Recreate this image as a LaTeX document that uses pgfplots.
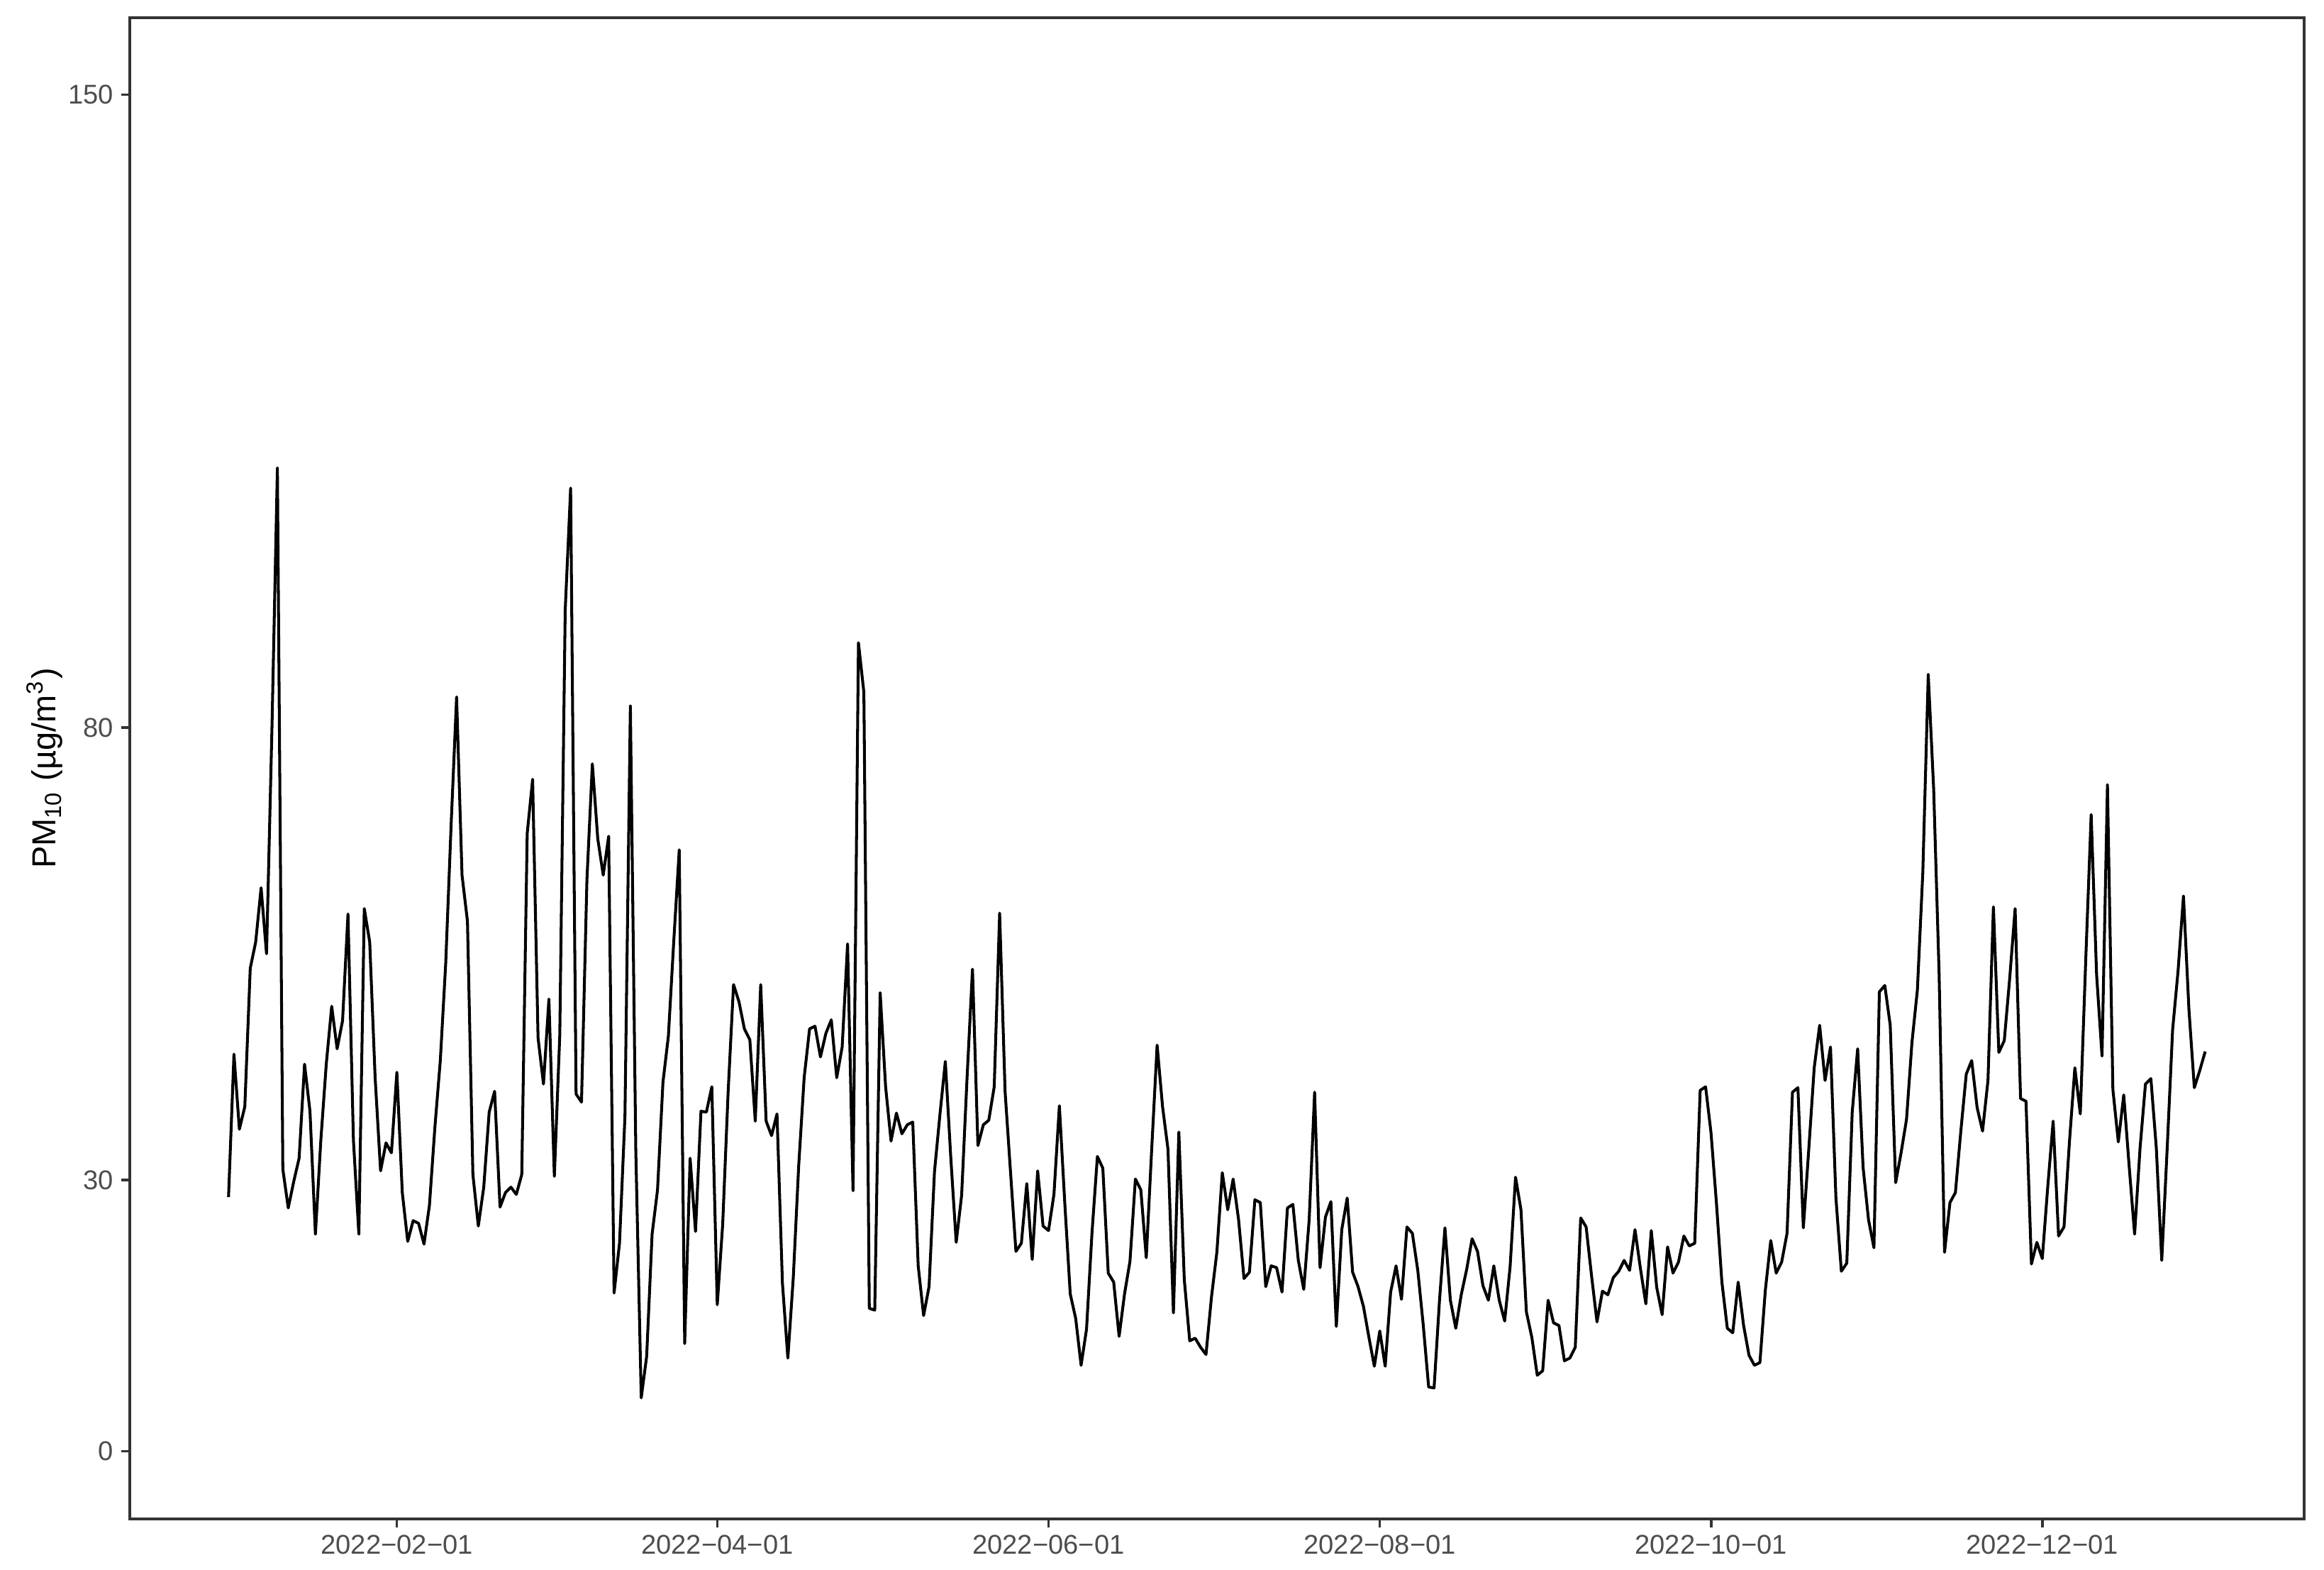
\documentclass[border=0pt]{standalone}
\usepackage{fontspec}
\setmainfont{Liberation Sans}
\usepackage{pgfplots}
\pgfplotsset{compat=1.18}
\definecolor{gray20}{RGB}{51,51,51}
\definecolor{gray30}{RGB}{77,77,77}

% daily PM10, day 0 = 2022-01-01
\pgfplotstableread[row sep=\\]{
d v\\
0 28.1\\ 1 43.9\\ 2 35.6\\ 3 38.1\\ 4 53.4\\ 5 56.3\\ 6 62.3\\ 7 55.0\\ 8 80.0\\ 9 108.7\\
10 31.2\\ 11 26.9\\ 12 29.8\\ 13 32.4\\ 14 42.8\\ 15 37.6\\ 16 24.0\\ 17 34.4\\ 18 42.8\\ 19 49.2\\
20 44.5\\ 21 47.6\\ 22 59.4\\ 23 34.4\\ 24 24.0\\ 25 60.0\\ 26 56.3\\ 27 41.3\\ 28 31.0\\ 29 34.1\\
30 33.0\\ 31 41.9\\ 32 28.6\\ 33 23.2\\ 34 25.5\\ 35 25.2\\ 36 22.9\\ 37 27.2\\ 38 35.8\\ 39 43.2\\
40 54.0\\ 41 69.4\\ 42 83.4\\ 43 63.7\\ 44 58.6\\ 45 30.6\\ 46 24.9\\ 47 29.2\\ 48 37.5\\ 49 39.8\\
50 27.0\\ 51 28.6\\ 52 29.2\\ 53 28.4\\ 54 30.6\\ 55 68.3\\ 56 74.3\\ 57 45.7\\ 58 40.6\\ 59 50.0\\
60 30.4\\ 61 46.0\\ 62 93.0\\ 63 106.5\\ 64 39.5\\ 65 38.6\\ 66 63.2\\ 67 76.0\\ 68 67.7\\ 69 63.7\\
70 68.0\\ 71 17.5\\ 72 23.0\\ 73 37.0\\ 74 82.4\\ 75 33.2\\ 76 5.9\\ 77 10.5\\ 78 24.0\\ 79 28.9\\
80 40.8\\ 81 45.9\\ 82 56.5\\ 83 66.5\\ 84 11.9\\ 85 32.4\\ 86 24.3\\ 87 37.6\\ 88 37.5\\ 89 40.3\\
90 16.2\\ 91 25.1\\ 92 39.7\\ 93 51.6\\ 94 49.7\\ 95 46.7\\ 96 45.5\\ 97 36.5\\ 98 51.6\\ 99 36.5\\
100 34.9\\ 101 37.3\\ 102 18.6\\ 103 10.3\\ 104 19.2\\ 105 31.6\\ 106 41.3\\ 107 46.7\\ 108 47.0\\ 109 43.6\\
110 46.2\\ 111 47.7\\ 112 41.3\\ 113 44.7\\ 114 56.1\\ 115 28.8\\ 116 89.4\\ 117 83.9\\ 118 15.8\\ 119 15.6\\
120 50.7\\ 121 40.3\\ 122 34.3\\ 123 37.4\\ 124 35.1\\ 125 36.1\\ 126 36.4\\ 127 20.5\\ 128 15.0\\ 129 18.2\\
130 30.9\\ 131 37.2\\ 132 43.1\\ 133 32.5\\ 134 23.1\\ 135 28.3\\ 136 41.3\\ 137 53.3\\ 138 33.8\\ 139 36.1\\
140 36.6\\ 141 40.3\\ 142 59.5\\ 143 39.8\\ 144 30.9\\ 145 22.1\\ 146 23.0\\ 147 29.6\\ 148 21.2\\ 149 31.0\\
150 24.9\\ 151 24.4\\ 152 28.4\\ 153 38.2\\ 154 27.4\\ 155 17.4\\ 156 14.7\\ 157 9.5\\ 158 13.5\\ 159 24.1\\
160 32.6\\ 161 31.3\\ 162 19.7\\ 163 18.7\\ 164 12.7\\ 165 17.4\\ 166 21.0\\ 167 30.1\\ 168 28.9\\ 169 21.4\\
170 33.4\\ 171 44.9\\ 172 38.1\\ 173 33.4\\ 174 15.3\\ 175 35.3\\ 176 19.0\\ 177 12.2\\ 178 12.5\\ 179 11.5\\
180 10.7\\ 181 17.0\\ 182 22.0\\ 183 30.8\\ 184 26.7\\ 185 30.1\\ 186 25.6\\ 187 19.1\\ 188 19.8\\ 189 27.8\\
190 27.5\\ 191 18.2\\ 192 20.5\\ 193 20.3\\ 194 17.6\\ 195 26.9\\ 196 27.3\\ 197 21.1\\ 198 17.9\\ 199 25.6\\
200 39.7\\ 201 20.3\\ 202 25.9\\ 203 27.6\\ 204 13.8\\ 205 24.5\\ 206 28.0\\ 207 19.8\\ 208 18.2\\ 209 16.0\\
210 12.6\\ 211 9.4\\ 212 13.3\\ 213 9.4\\ 214 17.6\\ 215 20.5\\ 216 16.8\\ 217 24.8\\ 218 24.1\\ 219 20.0\\
220 14.0\\ 221 7.1\\ 222 7.0\\ 223 16.7\\ 224 24.7\\ 225 16.7\\ 226 13.6\\ 227 17.3\\ 228 20.1\\ 229 23.5\\
230 22.1\\ 231 18.3\\ 232 16.7\\ 233 20.5\\ 234 16.7\\ 235 14.4\\ 236 20.4\\ 237 30.3\\ 238 26.7\\ 239 15.4\\
240 12.6\\ 241 8.4\\ 242 8.9\\ 243 16.7\\ 244 14.2\\ 245 13.9\\ 246 10.0\\ 247 10.3\\ 248 11.5\\ 249 25.8\\
250 24.8\\ 251 19.4\\ 252 14.3\\ 253 17.7\\ 254 17.3\\ 255 19.2\\ 256 19.9\\ 257 21.1\\ 258 20.0\\ 259 24.5\\
260 20.2\\ 261 16.3\\ 262 24.4\\ 263 18.1\\ 264 15.1\\ 265 22.6\\ 266 19.7\\ 267 20.9\\ 268 23.8\\ 269 22.7\\
270 23.0\\ 271 39.9\\ 272 40.3\\ 273 35.2\\ 274 27.4\\ 275 18.7\\ 276 13.6\\ 277 13.1\\ 278 18.7\\ 279 13.9\\
280 10.6\\ 281 9.5\\ 282 9.8\\ 283 17.8\\ 284 23.3\\ 285 19.7\\ 286 20.9\\ 287 24.1\\ 288 39.7\\ 289 40.2\\
290 24.7\\ 291 33.4\\ 292 42.4\\ 293 47.1\\ 294 41.0\\ 295 44.7\\ 296 28.0\\ 297 19.9\\ 298 20.8\\ 299 37.5\\
300 44.5\\ 301 31.4\\ 302 25.6\\ 303 22.5\\ 304 50.8\\ 305 51.5\\ 306 47.1\\ 307 29.7\\ 308 33.0\\ 309 36.7\\
310 45.2\\ 311 51.0\\ 312 64.0\\ 313 85.9\\ 314 73.2\\ 315 52.8\\ 316 22.0\\ 317 27.5\\ 318 28.6\\ 319 35.4\\
320 41.7\\ 321 43.2\\ 322 38.0\\ 323 35.4\\ 324 41.0\\ 325 60.2\\ 326 44.1\\ 327 45.4\\ 328 52.3\\ 329 60.0\\
330 39.0\\ 331 38.7\\ 332 20.7\\ 333 23.1\\ 334 21.3\\ 335 29.2\\ 336 36.5\\ 337 23.8\\ 338 24.8\\ 339 34.2\\
340 42.4\\ 341 37.3\\ 342 54.3\\ 343 70.4\\ 344 52.7\\ 345 43.7\\ 346 73.7\\ 347 40.0\\ 348 34.2\\ 349 39.4\\
350 31.5\\ 351 24.0\\ 352 33.5\\ 353 40.6\\ 354 41.2\\ 355 33.5\\ 356 21.1\\ 357 33.5\\ 358 46.6\\ 359 53.1\\
360 61.4\\ 361 48.9\\ 362 40.2\\ 363 42.1\\ 364 44.2\\
}\pmten

\begin{document}
\begin{tikzpicture}
\begin{axis}[
    scale only axis, width=146.7mm, height=101.3mm,
    xmin=-18.2, xmax=382.2, ymin=-7.5, ymax=158.5,
    xtick={31,90,151,212,273,334},
    xticklabels={2022−02−01,2022−04−01,2022−06−01,2022−08−01,2022−10−01,2022−12−01},
    ytick={0,30,80,150},
    xtick pos=lower, ytick pos=left,
    tick align=outside, major tick length=0.55mm,
    tick style={gray20, line width=0.5pt},
    axis line style={gray20, line width=0.55pt},
    tick label style={font=\fontsize{5.2}{6}\selectfont, text=gray30},
    xticklabel style={yshift=0.7mm},
    yticklabel style={xshift=0.7mm},
    /pgf/number format/assume math mode=true,
    ylabel={PM\textsubscript{10} (µg/m\textsuperscript{3})},
    every axis y label/.style={at={(axis description cs:-0.0392,0.5)}, rotate=90, anchor=center,
        font=\fontsize{6.4}{7.7}\selectfont},
]
\addplot[black, line width=0.55pt, line join=round] table[x=d, y=v] {\pmten};
\coordinate (bl) at (rel axis cs:0,0);
\coordinate (tr) at (rel axis cs:1,1);
\end{axis}
\pgfresetboundingbox
\path ([shift={(-8.75mm,-3.4mm)}]bl) rectangle ([shift={(1.35mm,1.2mm)}]tr);
\end{tikzpicture}
\end{document}
